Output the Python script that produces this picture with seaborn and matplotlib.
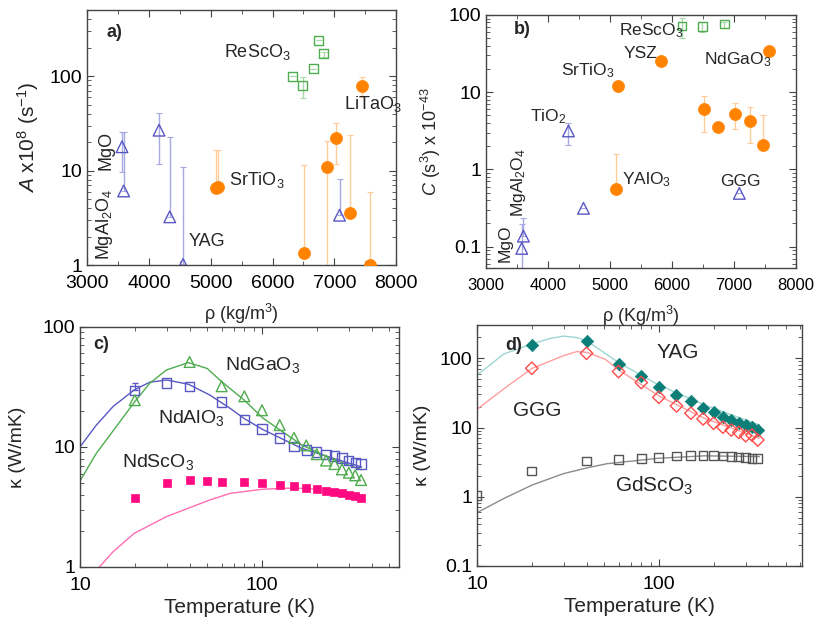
import seaborn as sns
import matplotlib.pyplot as plt
from matplotlib.ticker import FixedLocator, MultipleLocator, LogLocator, NullFormatter, FormatStrFormatter

# ---------------- panel a: A x1e8 (s^-1) vs density
a_tri_rho = [3566, 3593, 4165, 4338, 4554, 7083]
a_tri_val = [17.9, 6.1, 26.8, 3.25, 1.02, 3.38]
a_tri_lo = [9.7, 6.1, 11.9, 3.25, 1.02, 3.38]
a_tri_hi = [25.8, 25.8, 41.0, 22.8, 11.0, 8.1]

a_sq_rho = [6323, 6485, 6657, 6749, 6830]
a_sq_val = [100, 79.7, 119.6, 240, 174]
a_sq_lo = [100, 59, 119.6, 240, 160]
a_sq_hi = [100, 98, 119.6, 240, 180]

a_dot_rho = [5093, 5115, 6506, 6883, 7019, 7251, 7450, 7569]
a_dot_val = [6.5, 6.8, 1.35, 11.0, 21.9, 3.6, 78.4, 1.0]
a_dot_lo = [6.5, 6.8, 1.35, 0.3, 11.9, 3.6, 60.0, 1.0]
a_dot_hi = [16.5, 16.5, 11.4, 20.7, 31.6, 23.8, 98.5, 5.9]

# ---------------- panel b: C x1e-43 (s^3) vs density
b_tri_rho = [3576, 3603, 4330, 4572, 7085]
b_tri_val = [0.095, 0.137, 3.15, 0.314, 0.49]
b_tri_lo = [0.02, 0.137, 2.05, 0.314, 0.49]
b_tri_hi = [0.197, 0.233, 4.03, 0.314, 0.49]

b_sq_rho = [6160, 6488, 6843]
b_sq_val = [72, 70.6, 76.4]
b_sq_lo = [50.8, 61, 68]
b_sq_hi = [91, 80, 80]

b_dot_rho = [5094, 5121, 5826, 6520, 6741, 7021, 7252, 7462, 7570]
b_dot_val = [0.558, 12.2, 25.4, 6.12, 3.55, 5.28, 4.29, 2.05, 34.5]
b_dot_lo = [0.558, 10.3, 25.4, 3.09, 3.55, 3.3, 2.2, 2.05, 34.5]
b_dot_hi = [1.58, 14.0, 25.4, 9.03, 3.55, 7.2, 6.4, 5.0, 34.5]

# ---------------- panel c: conductivity vs temperature
temps = [20, 30, 40, 50, 60, 80, 100, 125, 150, 175, 200, 225, 250, 275, 300, 325, 350]
c_ndsco3 = [3.78, 5.0, 5.27, 5.2, 5.15, 5.15, 4.96, 4.8, 4.7, 4.58, 4.5, 4.3, 4.2, 4.1, 4.0, 3.9, 3.75]

c_ndalo3_T = [20, 30, 40, 60, 80, 100, 125, 150, 175, 200, 225, 250, 275, 300, 325, 350]
c_ndalo3 = [29.7, 34.1, 31.8, 23.7, 17.0, 14.1, 11.9, 10.1, 9.4, 9.1, 8.6, 8.4, 8.1, 7.7, 7.4, 7.2]

c_ndgao3_T = [20, 40, 60, 80, 100, 125, 150, 175, 200, 225, 250, 275, 300, 325, 350]
c_ndgao3 = [24.5, 51, 32, 26.4, 20.2, 15.2, 11.9, 10.3, 8.7, 7.7, 7.2, 6.5, 6.1, 5.8, 5.3]

fit_alo_T = [10, 12.3, 15.2, 19.9, 24.2, 29.9, 39.4, 51.8, 66.7, 80, 101.6, 165, 236.6, 353]
fit_alo_k = [10.0, 15.2, 21.7, 29.9, 34.6, 36.1, 33.3, 27.0, 21.0, 17.2, 13.9, 9.75, 8.2, 6.8]
fit_gao_T = [10, 12.3, 15.2, 19.9, 24.2, 29.9, 39.4, 50, 60, 80, 101.6, 165, 236.6, 353]
fit_gao_k = [5.2, 8.85, 13.6, 23.6, 34.0, 43.8, 50.4, 45.0, 35.0, 24.5, 17.3, 10.4, 8.05, 6.45]
fit_sco_T = [12.4, 15.2, 19.9, 29.9, 51.8, 66.7, 101.6, 150, 200, 250, 300, 353]
fit_sco_k = [0.95, 1.34, 1.91, 2.63, 3.62, 4.1, 4.45, 4.55, 4.45, 4.3, 4.1, 3.9]

# ---------------- panel d: garnets + GdScO3
d_T = [20, 40, 60, 80, 100, 125, 150, 175, 200, 225, 250, 275, 300, 325, 350]
d_yag = [156, 180, 81.9, 55.6, 39.0, 29.5, 24.5, 19.4, 16.6, 14.4, 12.9, 11.5, 10.7, 10.1, 9.2]
d_ggg = [71.7, 118, 64.2, 44.6, 27.3, 20.5, 16.1, 13.3, 11.5, 10.1, 9.2, 8.5, 7.6, 7.8, 6.6]
d_gdsco3_T = [10, 20, 40, 60, 80, 100, 125, 150, 175, 200, 225, 250, 275, 300, 325, 350]
d_gdsco3 = [1.05, 2.36, 3.29, 3.42, 3.6, 3.72, 3.88, 3.93, 3.93, 3.93, 3.88, 3.8, 3.75, 3.68, 3.6, 3.55]

fit_yag_T = [10, 14, 20, 25, 29.9, 35, 40, 50.6, 60, 100, 178, 357]
fit_yag_k = [57, 115, 161, 192, 209, 200, 180, 118, 86.6, 41, 21.2, 10.9]
fit_ggg_T = [10, 14, 20, 29.9, 35.4, 40, 50.6, 60, 100, 178, 357]
fit_ggg_k = [18.3, 36, 71, 109, 125, 122, 97, 68, 28.6, 13.6, 7.0]
fit_gds_T = [10, 14, 20, 29.9, 40, 51.8, 100, 178, 357]
fit_gds_k = [0.59, 0.94, 1.47, 2.16, 2.6, 3.0, 3.6, 3.9, 3.8]

BLUE, BLUE_ERR = '#5858c4', '#a8a8e2'
GREEN, GREEN_ERR = '#4fac4f', '#a9d8a9'
ORANGE, ORANGE_ERR = '#ff8300', '#ffcc99'
PINK, PINK_FIT = '#ff0a80', '#ff6eb4'
TEAL, TEAL_FIT = '#0b7e77', '#9dd6d2'
RED, RED_FIT = '#ff4a4a', '#ff9e9e'
GRAY, GRAY_FIT = '#555555', '#8c8c8c'

sns.set_style('ticks')
plt.rcParams['font.family'] = ['Liberation Sans', 'DejaVu Sans']
plt.rcParams['mathtext.fontset'] = 'custom'
plt.rcParams['mathtext.rm'] = 'Liberation Sans'
plt.rcParams['mathtext.it'] = 'Liberation Sans:italic'
plt.rcParams['mathtext.bf'] = 'Liberation Sans:bold'
plt.rcParams['axes.edgecolor'] = '#444444'
plt.rcParams['xtick.color'] = '#444444'
plt.rcParams['ytick.color'] = '#444444'
plt.rcParams['xtick.labelcolor'] = 'black'
plt.rcParams['ytick.labelcolor'] = 'black'

fig = plt.figure(figsize=(8.16, 6.27), dpi=100)
ax_a = fig.add_axes([0.1066, 0.577, 0.379, 0.407])
ax_b = fig.add_axes([0.5956, 0.5726, 0.380, 0.4035])
ax_c = fig.add_axes([0.098, 0.0957, 0.391, 0.383])
ax_d = fig.add_axes([0.5846, 0.0973, 0.398, 0.384])


def style_axis(ax):
    ax.tick_params(which='both', direction='in', top=True, right=True, labelsize=14)
    ax.tick_params(axis='x', which='major', pad=7)
    ax.tick_params(which='major', length=5, width=0.8)
    ax.tick_params(which='minor', length=3, width=0.6)
    for s in ax.spines.values():
        s.set_linewidth(1.0)


def errbars(ax, x, y, lo, hi, color):
    yerr = [[v - l for v, l in zip(y, lo)], [h - v for v, h in zip(y, hi)]]
    ax.errorbar(x, y, yerr=yerr, fmt='none', ecolor=color, elinewidth=1.0,
                capsize=2.5, capthick=0.8, zorder=1)


def open_pts(ax, x, y, marker, color, s):
    sns.scatterplot(x=x, y=y, ax=ax, marker=marker, s=s, facecolors='none',
                    edgecolor=color, linewidth=1.0, zorder=3)


def full_pts(ax, x, y, marker, color, s):
    sns.scatterplot(x=x, y=y, ax=ax, marker=marker, s=s, color=color,
                    edgecolor=color, linewidth=0.5, zorder=3)


def density_axis(ax):
    ax.set_yscale('log')
    ax.set_xlim(3000, 8000)
    ax.xaxis.set_major_locator(MultipleLocator(1000))
    ax.xaxis.set_minor_locator(MultipleLocator(500))
    ax.yaxis.set_minor_locator(LogLocator(base=10, subs=range(2, 10)))
    ax.yaxis.set_minor_formatter(NullFormatter())
    ax.yaxis.set_major_formatter(FormatStrFormatter('%g'))
    style_axis(ax)


# ---- a)
errbars(ax_a, a_tri_rho, a_tri_val, a_tri_lo, a_tri_hi, BLUE_ERR)
errbars(ax_a, a_sq_rho, a_sq_val, a_sq_lo, a_sq_hi, GREEN_ERR)
errbars(ax_a, a_dot_rho, a_dot_val, a_dot_lo, a_dot_hi, ORANGE_ERR)
open_pts(ax_a, a_tri_rho, a_tri_val, '^', BLUE, 70)
open_pts(ax_a, a_sq_rho, a_sq_val, 's', GREEN, 40)
full_pts(ax_a, a_dot_rho, a_dot_val, 'o', ORANGE, 75)
density_axis(ax_a)
ax_a.set_ylim(1, 500)
ax_a.yaxis.set_major_locator(FixedLocator([1, 10, 100]))
ax_a.set_xlabel('ρ (kg/m$^3$)', fontsize=13, labelpad=7)
ax_a.set_ylabel('$A$ x10$^8$ (s$^{-1}$)', fontsize=15, labelpad=6)
ax_a.text(3323, 292, 'a)', fontsize=13, fontweight='bold', va='center')
ax_a.text(5212, 180, 'ReScO$_3$', fontsize=13, va='center')
ax_a.text(7154, 51, 'LiTaO$_3$', fontsize=13, va='center')
ax_a.text(5292, 7.9, 'SrTiO$_3$', fontsize=13, va='center')
ax_a.text(4645, 1.77, 'YAG', fontsize=13, va='center')
ax_a.text(3307, 16.5, 'MgO', fontsize=13, rotation=90, ha='center', va='center')
ax_a.text(3291, 2.7, 'MgAl$_2$O$_4$', fontsize=13, rotation=90, ha='center', va='center')

# ---- b)
errbars(ax_b, b_tri_rho, b_tri_val, b_tri_lo, b_tri_hi, BLUE_ERR)
errbars(ax_b, b_sq_rho, b_sq_val, b_sq_lo, b_sq_hi, GREEN_ERR)
errbars(ax_b, b_dot_rho, b_dot_val, b_dot_lo, b_dot_hi, ORANGE_ERR)
open_pts(ax_b, b_tri_rho, b_tri_val, '^', BLUE, 70)
open_pts(ax_b, b_sq_rho, b_sq_val, 's', GREEN, 40)
full_pts(ax_b, b_dot_rho, b_dot_val, 'o', ORANGE, 75)
density_axis(ax_b)
ax_b.tick_params(axis='x', labelsize=12)
ax_b.set_ylim(0.053, 100)
ax_b.yaxis.set_major_locator(FixedLocator([0.1, 1, 10, 100]))
ax_b.set_xlabel('ρ (Kg/m$^3$)', fontsize=13, labelpad=8)
ax_b.set_ylabel('$C$ (s$^3$) x 10$^{-43}$', fontsize=13, labelpad=4)
ax_b.text(3441, 64, 'b)', fontsize=13, fontweight='bold', va='center')
ax_b.text(5137, 62.7, 'ReScO$_3$', fontsize=12.5, va='center')
ax_b.text(5218, 31.9, 'YSZ', fontsize=12.5, va='center')
ax_b.text(6521, 26.6, 'NdGaO$_3$', fontsize=12.5, va='center')
ax_b.text(4206, 18.8, 'SrTiO$_3$', fontsize=12.5, va='center')
ax_b.text(3710, 4.83, 'TiO$_2$', fontsize=12.5, va='center')
ax_b.text(5190, 0.745, 'YAlO$_3$', fontsize=12.5, va='center')
ax_b.text(6778, 0.70, 'GGG', fontsize=12.5, va='center')
ax_b.text(3516, 0.67, 'MgAl$_2$O$_4$', fontsize=12.5, rotation=90, ha='center', va='center')
ax_b.text(3306, 0.112, 'MgO', fontsize=12.5, rotation=90, ha='center', va='center')


def temp_axis(ax, xmax, ylo, yhi, yticks):
    ax.set_xscale('log')
    ax.set_yscale('log')
    ax.set_xlim(10, xmax)
    ax.set_ylim(ylo, yhi)
    ax.xaxis.set_major_locator(FixedLocator([10, 100]))
    ax.yaxis.set_major_locator(FixedLocator(yticks))
    for axis in (ax.xaxis, ax.yaxis):
        axis.set_minor_locator(LogLocator(base=10, subs=range(2, 10)))
        axis.set_minor_formatter(NullFormatter())
        axis.set_major_formatter(FormatStrFormatter('%g'))
    style_axis(ax)
    ax.set_xlabel('Temperature (K)', fontsize=15, labelpad=3)


# ---- c)
sns.lineplot(x=fit_alo_T, y=fit_alo_k, ax=ax_c, color=BLUE, lw=1, sort=False, estimator=None)
sns.lineplot(x=fit_gao_T, y=fit_gao_k, ax=ax_c, color=GREEN, lw=1, sort=False, estimator=None)
sns.lineplot(x=fit_sco_T, y=fit_sco_k, ax=ax_c, color=PINK_FIT, lw=1, sort=False, estimator=None)
ax_c.errorbar([20], [29.7], yerr=[[0], [4.3]], fmt='none', ecolor=BLUE, capsize=2.5, elinewidth=0.8)
open_pts(ax_c, c_ndalo3_T, c_ndalo3, 's', BLUE, 45)
open_pts(ax_c, c_ndgao3_T, c_ndgao3, '^', GREEN, 60)
full_pts(ax_c, temps, c_ndsco3, 's', PINK, 40)
temp_axis(ax_c, 566, 1, 100, [1, 10, 100])
ax_c.set_ylabel('κ (W/mK)', fontsize=14, labelpad=12)
ax_c.text(11.8, 70.8, 'c)', fontsize=13, fontweight='bold', va='center')
ax_c.text(62.6, 48.1, 'NdGaO$_3$', fontsize=14, va='center')
ax_c.text(26.8, 17.4, 'NdAlO$_3$', fontsize=14, va='center')
ax_c.text(17.0, 7.5, 'NdScO$_3$', fontsize=14, va='center')

# ---- d)
sns.lineplot(x=fit_yag_T, y=fit_yag_k, ax=ax_d, color=TEAL_FIT, lw=1, sort=False, estimator=None)
sns.lineplot(x=fit_ggg_T, y=fit_ggg_k, ax=ax_d, color=RED_FIT, lw=1, sort=False, estimator=None)
sns.lineplot(x=fit_gds_T, y=fit_gds_k, ax=ax_d, color=GRAY_FIT, lw=1, sort=False, estimator=None)
full_pts(ax_d, d_T, d_yag, 'D', TEAL, 40)
open_pts(ax_d, d_T, d_ggg, 'D', RED, 40)
open_pts(ax_d, d_gdsco3_T, d_gdsco3, 's', GRAY, 40)
temp_axis(ax_d, 611, 0.1, 300, [0.1, 1, 10, 100])
ax_d.set_ylabel('κ (W/mK)', fontsize=14, labelpad=6)
ax_d.text(14.3, 154, 'd)', fontsize=13, fontweight='bold', va='center')
ax_d.text(97.5, 122, 'YAG', fontsize=15, va='center')
ax_d.text(15.8, 17.7, 'GGG', fontsize=15, va='center')
ax_d.text(57.3, 1.45, 'GdScO$_3$', fontsize=15, va='center')

fig.savefig('out.png', dpi=100)
